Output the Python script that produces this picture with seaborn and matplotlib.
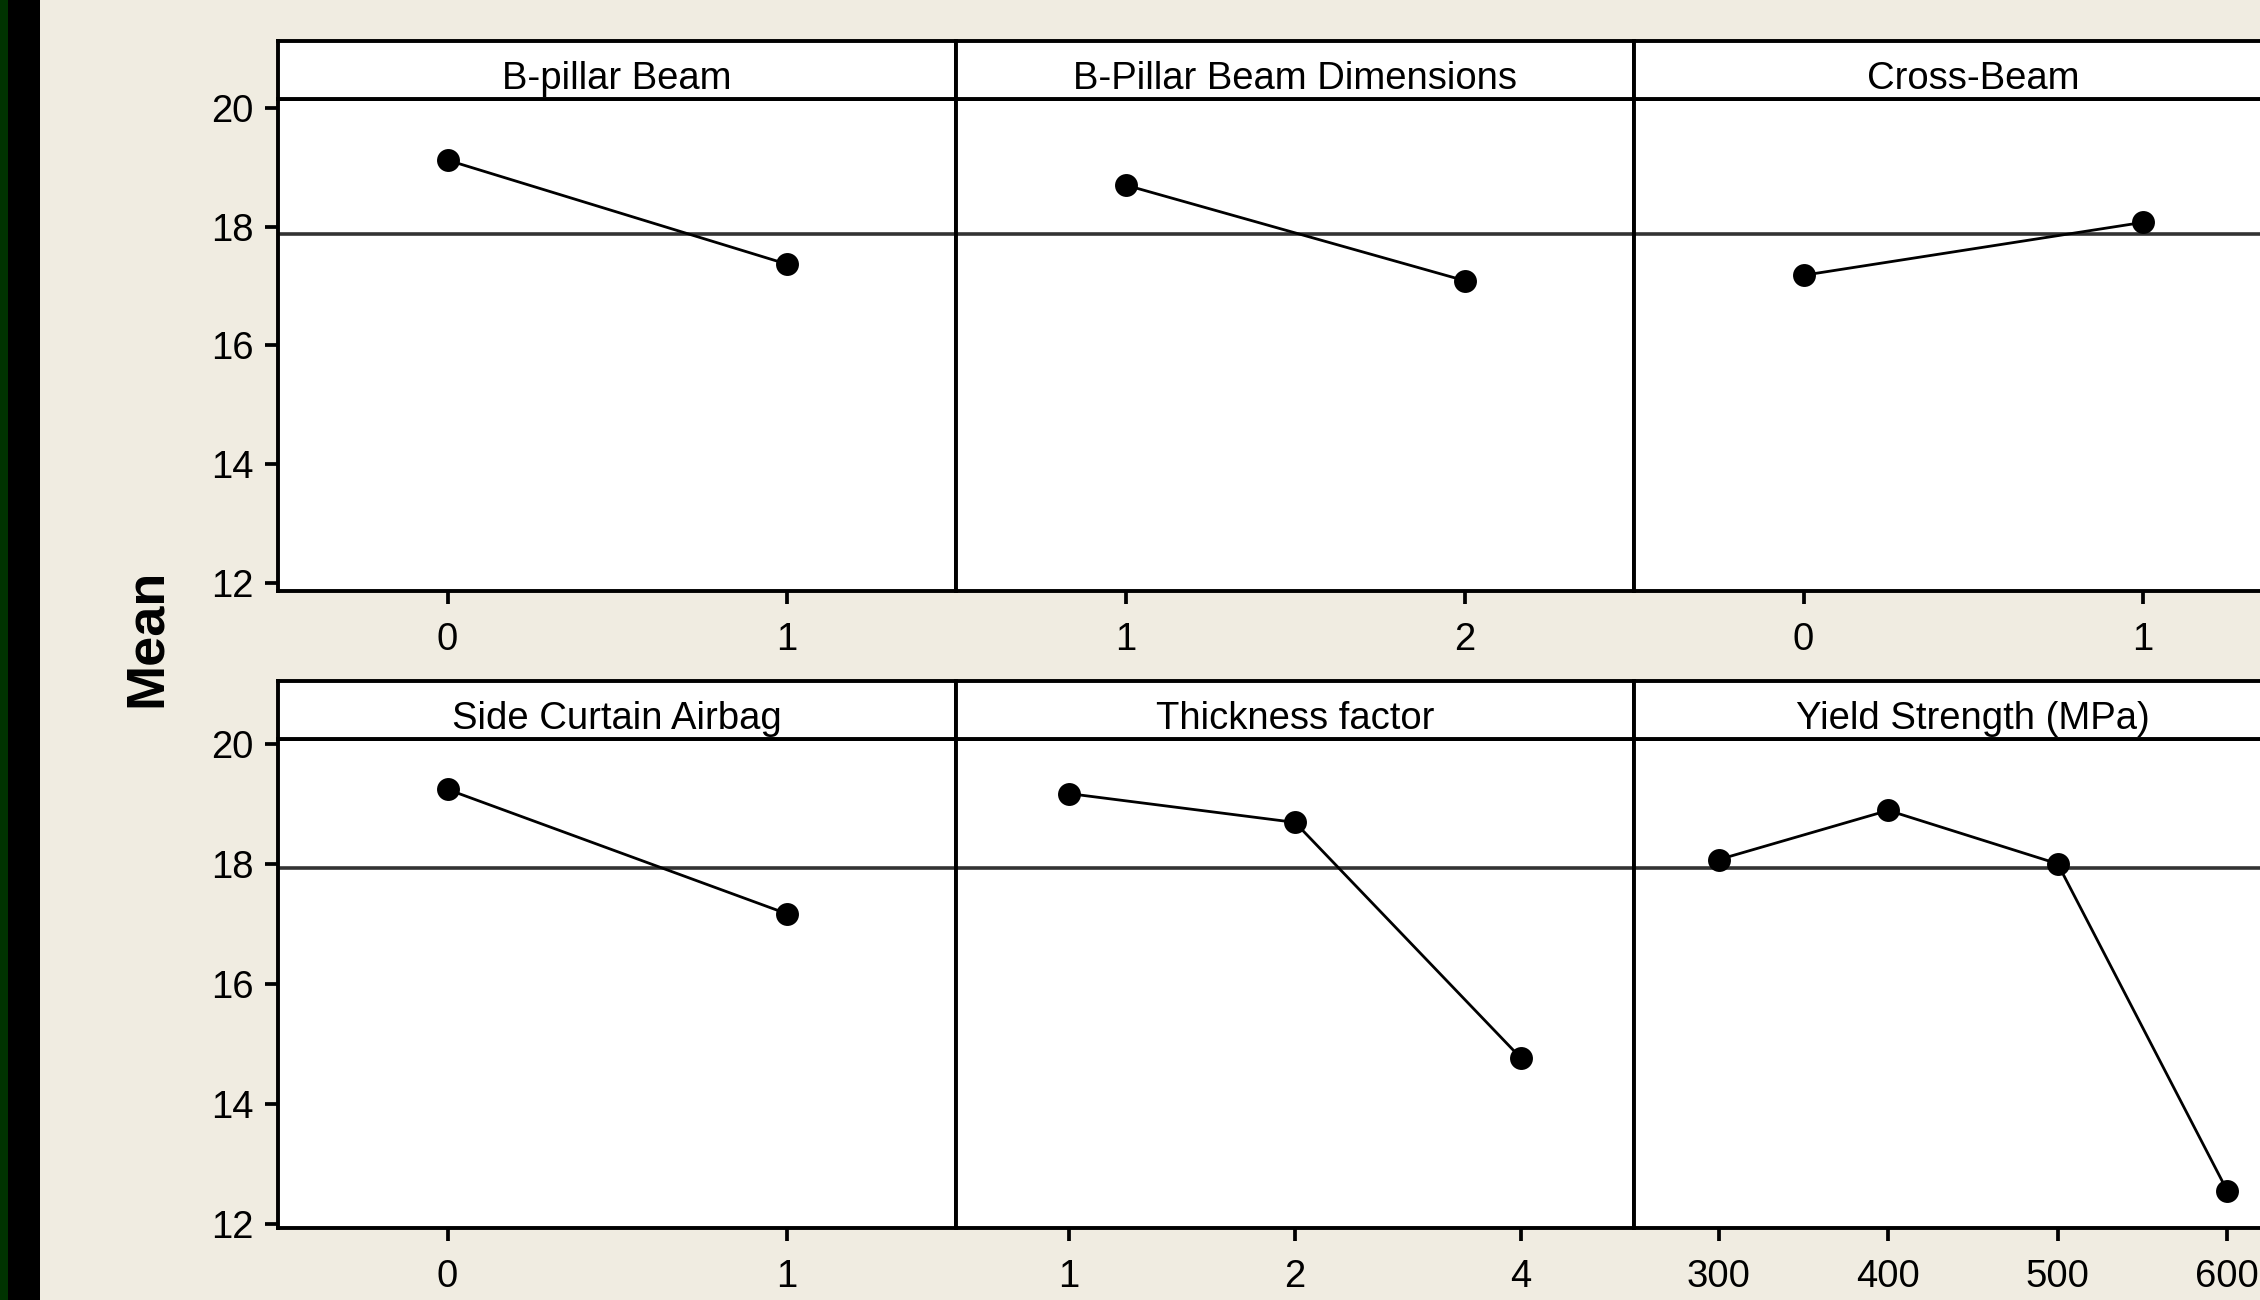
import matplotlib
matplotlib.use("Agg")
import matplotlib.pyplot as plt
import seaborn as sns
import pandas as pd
from matplotlib.patches import Rectangle

# ---------------- data ----------------
top_titles = ["B-pillar Beam", "B-Pillar Beam Dimensions", "Cross-Beam"]
top_levels = [["0", "1"], ["1", "2"], ["0", "1"]]
top_means = [[19.12, 17.37], [18.70, 17.09], [17.18, 18.07]]
top_grand_mean = 17.87

bottom_titles = ["Side Curtain Airbag", "Thickness factor", "Yield Strength (MPa)"]
bottom_levels = [["0", "1"], ["1", "2", "4"], ["300", "400", "500", "600"]]
bottom_means = [[19.24, 17.17], [19.17, 18.69, 14.76], [18.07, 18.89, 18.00, 12.55]]
bottom_grand_mean = 17.93

y_ticks = [12, 14, 16, 18, 20]
y_label = "Mean"

# ---------------- style ----------------
BG = "#F0ECE1"
sns.set_theme(style="white")
plt.rcParams["font.family"] = ["Liberation Sans", "DejaVu Sans"]

W, H = 2260, 1300
fig = plt.figure(figsize=(W / 100, H / 100), dpi=100, facecolor=BG)

# left dark bar
fig.patches.append(Rectangle((0, 0), 40 / W, 1, transform=fig.transFigure,
                             facecolor="black", edgecolor="none", zorder=0))
fig.patches.append(Rectangle((0, 0), 8 / W, 1, transform=fig.transFigure,
                             facecolor="#003300", edgecolor="none", zorder=0))

col_left = [278, 956, 1634]
panel_w = 678
rows_geom = [  # strip top, plot top, plot bottom (pixels from top)
    (41, 99, 591),
    (681, 739, 1228),
]
row_ylims = [(11.86, 20.15), (11.93, 20.08)]

SPINE_LW = 2.8
FS = 27.5

rows = [
    (top_titles, top_levels, top_means, top_grand_mean),
    (bottom_titles, bottom_levels, bottom_means, bottom_grand_mean),
]

for r, (titles, levels, means, gmean) in enumerate(rows):
    s_top, p_top, p_bot = rows_geom[r]
    for c in range(3):
        l = col_left[c] / W
        w = panel_w / W
        # plot axes
        ax = fig.add_axes([l, 1 - p_bot / H, w, (p_bot - p_top) / H])
        ax.set_facecolor("white")
        df = pd.DataFrame({"level": levels[c], "mean": means[c]})
        sns.pointplot(data=df, x="level", y="mean", order=levels[c], ax=ax,
                      color="black", markers="o", linestyles="-",
                      markersize=15, linewidth=2.0, errorbar=None)
        ax.axhline(gmean, color="#333333", lw=2.6, zorder=1)
        n = len(levels[c])
        ax.set_xlim(-0.5, n - 0.5)
        ax.set_ylim(*row_ylims[r])
        ax.set_yticks(y_ticks)
        ax.set_xlabel("")
        ax.set_ylabel("")
        for sp in ax.spines.values():
            sp.set_visible(True)
            sp.set_color("black")
            sp.set_linewidth(SPINE_LW)
        ax.tick_params(axis="x", direction="out", length=9.5, width=2.7,
                       color="black", labelsize=FS, labelcolor="black", pad=12.5,
                       bottom=True)
        if c == 0:
            ax.tick_params(axis="y", direction="out", length=9.5, width=2.7,
                           color="black", labelsize=FS, labelcolor="black",
                           pad=8, left=True)
            ax.set_yticklabels([str(t) for t in y_ticks])
        else:
            ax.tick_params(axis="y", left=False, labelleft=False)
        ax.grid(False)

        # strip axes
        sax = fig.add_axes([l, 1 - p_top / H, w, (p_top - s_top) / H])
        sax.set_facecolor("white")
        sax.set_xticks([])
        sax.set_yticks([])
        for sp in sax.spines.values():
            sp.set_visible(True)
            sp.set_color("black")
            sp.set_linewidth(SPINE_LW)
        sax.text(0.5, 0.18, titles[c], transform=sax.transAxes, ha="center",
                 va="baseline", fontsize=FS, color="black")

fig.text(146.5 / W, 1 - 638 / H, y_label, rotation=90, ha="center", va="center",
         fontsize=39, fontweight="bold", color="black")

fig.savefig("out.png", dpi=100, facecolor=BG)
